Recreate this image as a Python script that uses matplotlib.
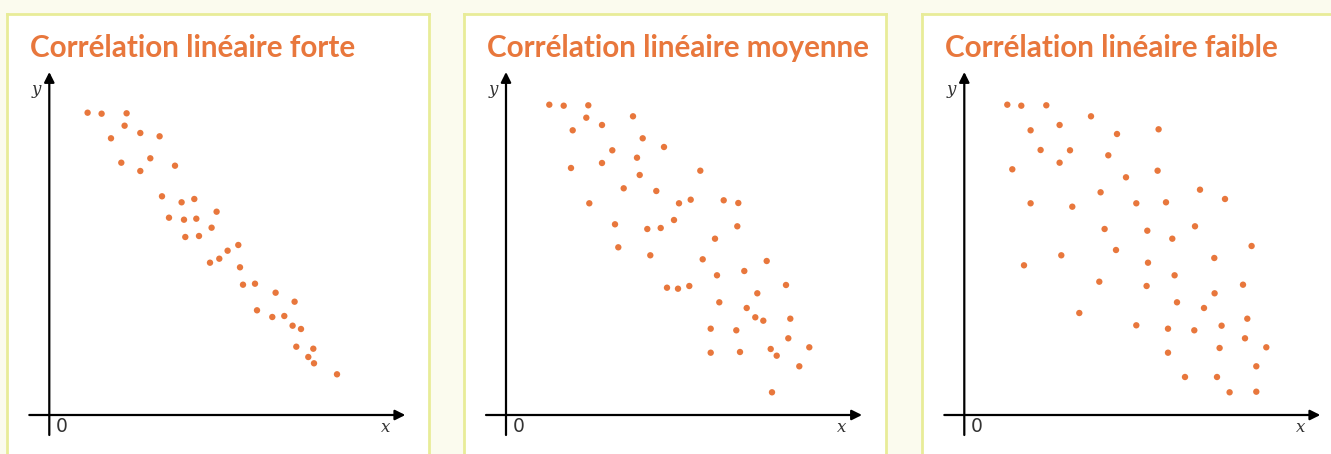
import matplotlib
matplotlib.use("Agg")

import matplotlib.pyplot as plt

# ── Données (unités arbitraires, origine des axes en 0,0) ───────────
TITLES = [
    "Corrélation linéaire forte",
    "Corrélation linéaire moyenne",
    "Corrélation linéaire faible",
]

forte_x = [3.83, 5.23, 7.73, 7.53, 6.17, 9.10, 11.03, 7.20, 10.10, 9.10,
           12.57, 11.27, 13.23, 14.50, 16.73, 11.97, 13.47, 14.70, 16.23, 13.60,
           14.97, 18.90, 17.83, 17.00, 16.07, 19.07, 19.37, 20.57, 22.63, 24.53,
           20.77, 22.30, 23.50, 24.33, 25.17, 24.70, 26.40, 25.90, 26.47, 28.77]
forte_y = [30.23, 30.13, 30.17, 28.93, 27.67, 28.20, 27.87, 25.23, 25.67, 24.40,
           24.93, 21.87, 21.27, 21.60, 20.33, 19.73, 19.53, 19.63, 18.73, 17.80,
           17.90, 17.00, 16.43, 15.63, 15.23, 14.77, 13.03, 13.13, 12.23, 11.33,
           10.47, 9.80, 9.90, 8.93, 8.60, 6.83, 6.63, 5.80, 5.17, 4.07]

moyenne_x = [4.33, 5.77, 8.23, 8.03, 6.67, 9.60, 12.70, 13.67, 15.80, 10.63,
             13.10, 6.50, 9.60, 13.37, 19.43, 11.77, 15.03, 8.33, 17.30, 18.47,
             21.77, 23.23, 10.90, 14.13, 15.47, 16.80, 23.13, 20.90, 11.23, 14.43,
             19.67, 26.07, 21.10, 23.83, 16.10, 17.20, 18.33, 28.00, 25.13, 21.33,
             24.07, 24.93, 25.73, 28.43, 20.47, 23.03, 28.23, 20.47, 23.40, 26.47,
             27.07, 30.33, 29.33, 26.60]
moyenne_y = [31.03, 30.93, 30.97, 29.73, 28.47, 29.00, 29.87, 27.67, 26.80, 26.47,
             25.73, 24.70, 25.20, 24.00, 24.43, 22.67, 22.40, 21.17, 21.17, 21.53,
             21.47, 21.20, 19.07, 18.60, 18.70, 19.50, 18.87, 17.63, 16.77, 15.97,
             15.57, 15.40, 13.97, 14.40, 12.73, 12.63, 12.90, 13.00, 12.17, 11.27,
             10.70, 9.77, 9.43, 9.63, 8.63, 8.47, 7.67, 6.23, 6.30, 6.60,
             5.93, 6.77, 4.87, 2.27]

faible_x = [4.30, 5.70, 8.20, 12.67, 6.63, 9.53, 15.27, 19.43, 7.63, 10.57,
            14.40, 4.80, 9.53, 16.17, 19.33, 13.63, 23.57, 26.07, 6.63, 10.80,
            17.20, 20.17, 14.03, 18.30, 23.07, 20.80, 28.73, 15.17, 5.97, 9.70,
            18.37, 25.00, 21.03, 13.50, 18.23, 27.87, 25.03, 21.27, 23.97, 11.50,
            28.30, 17.20, 20.37, 23.00, 25.73, 28.07, 20.37, 25.53, 30.20, 29.20,
            22.07, 25.27, 26.53, 29.20]
faible_y = [31.03, 30.93, 30.97, 29.87, 28.47, 29.00, 28.10, 28.57, 26.50, 26.47,
            25.97, 24.57, 25.23, 23.77, 24.43, 22.27, 22.53, 21.60, 21.17, 20.83,
            21.17, 21.27, 18.60, 18.43, 18.87, 17.63, 16.90, 16.50, 14.97, 15.97,
            15.23, 15.70, 13.97, 13.33, 12.90, 13.03, 12.17, 11.27, 10.70, 10.20,
            9.63, 8.97, 8.63, 8.47, 8.93, 7.67, 6.23, 6.70, 6.77, 4.87,
            3.80, 3.80, 2.27, 2.33]

SERIES = [(forte_x, forte_y), (moyenne_x, moyenne_y), (faible_x, faible_y)]

ORANGE = "#e8773c"
BG = "#fbfbee"
BORDER = "#e8ec98"

W, H = 1331, 454
fig = plt.figure(figsize=(W / 100, H / 100), dpi=100, facecolor=BG)

# bord gauche du cadre (px) et position de l'origine (px)
panel_left = [7, 464, 922]
origin_x = [49.3, 506, 964.3]
origin_y = 415
panel_w, panel_top = 422, 14

for i, (title, (xs, ys)) in enumerate(zip(TITLES, SERIES)):
    ax = fig.add_axes([panel_left[i] / W, 0, panel_w / W, (H - panel_top) / H])
    ax.set_facecolor("white")
    x0 = (panel_left[i] - origin_x[i]) / 10
    ax.set_xlim(x0, x0 + panel_w / 10)
    ax.set_ylim((origin_y - H) / 10, (origin_y - panel_top) / 10)
    ax.set_xticks([])
    ax.set_yticks([])
    for side in ["top", "left", "right"]:
        ax.spines[side].set_color(BORDER)
        ax.spines[side].set_linewidth(2)
    ax.spines["bottom"].set_visible(False)

    # axes avec flèches
    arrow = dict(arrowstyle="-|>", color="black", lw=1.6, mutation_scale=15,
                 shrinkA=0, shrinkB=0)
    ax.annotate("", xy=(35.6, 0), xytext=(-2.0, 0), arrowprops=arrow)
    ax.annotate("", xy=(0, 34.3), xytext=(0, -2.0), arrowprops=arrow)

    ax.text(-1.3, 32.6, "y", fontsize=12, family="DejaVu Serif", style="italic",
            ha="center", va="center", color="#333333")
    ax.text(33.6, -1.2, "x", fontsize=12, family="DejaVu Serif", style="italic",
            ha="center", va="center", color="#333333")
    ax.text(1.25, -1.15, "0", fontsize=13.5, ha="center", va="center", color="#333333")

    ax.text(-1.93, 36.7, title, fontsize=21.3, fontweight="bold", family="Lato",
            color=ORANGE, ha="left", va="center")

    ax.scatter(xs, ys, s=21, color=ORANGE, edgecolors="none", zorder=3)

fig.savefig("out.png", dpi=100, facecolor=BG)
